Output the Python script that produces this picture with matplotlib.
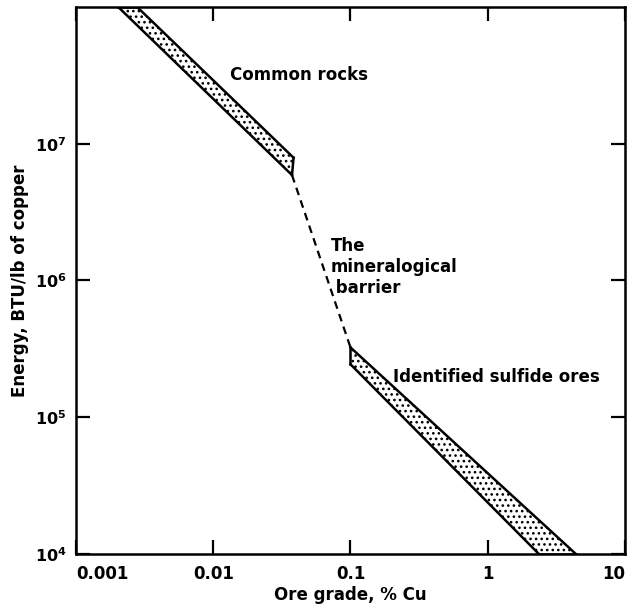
import matplotlib.pyplot as plt
from matplotlib.patches import Polygon
import numpy as np

plt.rcParams['font.family'] = ['DejaVu Sans']
plt.rcParams['mathtext.fontset'] = 'custom'
plt.rcParams['mathtext.rm'] = 'DejaVu Sans:bold'
plt.rcParams['hatch.linewidth'] = 1.1

# common rocks band: lower and upper edge (grade %Cu, energy BTU/lb)
rocks_lo_x = [0.00203, 0.0375]
rocks_lo_y = [1.0e8, 5.9e6]
rocks_hi_x = [0.00279, 0.0385]
rocks_hi_y = [1.0e8, 7.9e6]

# identified sulfide ores band
ores_lo_x = [0.1, 2.36]
ores_lo_y = [2.44e5, 1.0e4]
ores_hi_x = [0.1, 4.39]
ores_hi_y = [3.24e5, 1.0e4]

# mineralogical barrier (dashed)
barrier_x = [0.0375, 0.1]
barrier_y = [5.9e6, 3.24e5]

x_ticks = [0.001, 0.01, 0.1, 1, 10]
x_labels = ["0.001", "0.01", "0.1", "1", "10"]
y_ticks = [1e4, 1e5, 1e6, 1e7]
y_labels = [r"$10^4$", r"$10^5$", r"$10^6$", r"$10^7$"]

fig = plt.figure(figsize=(6.30, 6.07), dpi=100)
ax = fig.add_axes([0.1206, 0.0873, 0.8714, 0.9012])
ax.set_xscale('log')
ax.set_yscale('log')
ax.set_xlim(0.001, 10)
ax.set_ylim(1e4, 1e8)


def band(lo_x, lo_y, hi_x, hi_y):
    pts = list(zip(lo_x, lo_y)) + list(zip(hi_x[::-1], hi_y[::-1]))
    ax.add_patch(Polygon(pts, closed=True, facecolor='white', edgecolor='black',
                         hatch='...', linewidth=0))
    ax.plot(lo_x, lo_y, color='black', lw=1.8)
    ax.plot(hi_x, hi_y, color='black', lw=1.8)
    ax.plot([lo_x[-1], hi_x[-1]], [lo_y[-1], hi_y[-1]], color='black', lw=1.8)
    ax.plot([lo_x[0], hi_x[0]], [lo_y[0], hi_y[0]], color='black', lw=1.8)


band(rocks_lo_x, rocks_lo_y, rocks_hi_x, rocks_hi_y)
band(ores_lo_x, ores_lo_y, ores_hi_x, ores_hi_y)
ax.plot(barrier_x, barrier_y, color='black', lw=1.6, ls=(0, (3.5, 2.5)))

fs = 12
fw = 'semibold'
ax.text(0.0133, 3.2e7, "Common rocks", fontsize=fs, fontweight=fw, va='center')
ax.text(0.0714, 1.25e6, "The\nmineralogical\n barrier", fontsize=fs, fontweight=fw,
        va='center', linespacing=1.2)
ax.text(0.203, 1.96e5, "Identified sulfide ores", fontsize=fs, fontweight=fw, va='center')

ax.set_xticks(x_ticks)
ax.set_xticklabels(x_labels)
ax.set_yticks(y_ticks)
ax.set_yticklabels(y_labels)
ax.minorticks_off()
ax.tick_params(which='major', direction='in', length=10, width=1.6,
               top=True, right=True, labelsize=fs)
ax.tick_params(axis='x', pad=8)
ax.tick_params(axis='y', pad=7, labelsize=11.5)
xl = ax.get_xticklabels()
for lab in xl:
    lab.set_fontweight(fw)
xl[0].set_horizontalalignment('left')
xl[-1].set_horizontalalignment('right')
for s in ax.spines.values():
    s.set_linewidth(1.8)

ax.set_xlabel("Ore grade, % Cu", fontsize=fs, fontweight=fw, labelpad=2)
ax.set_ylabel("Energy, BTU/lb of copper", fontsize=fs, fontweight=fw, labelpad=4)

fig.savefig("out.png", dpi=100)
